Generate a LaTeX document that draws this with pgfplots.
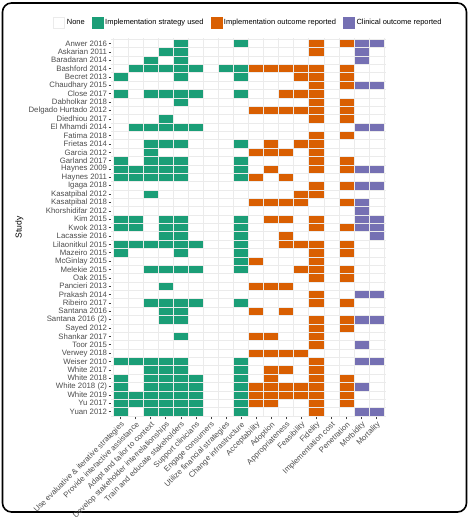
\documentclass[border=0pt]{standalone}
\usepackage{pgfplots}
\pgfplotsset{compat=1.18}
\usepackage{fontspec}
\setmainfont{Liberation Sans}
\definecolor{cgreen}{HTML}{1B9E77}
\definecolor{corange}{HTML}{D95F02}
\definecolor{cpurple}{HTML}{7570B3}
\definecolor{txtgrey}{HTML}{4D4D4D}
\definecolor{gridgrey}{HTML}{EBEBEB}
\begin{document}
\begin{tikzpicture}
\useasboundingbox (0pt,0pt) rectangle (469pt,517pt);
\draw[line width=1.6pt, rounded corners=9pt] (2.5pt,5pt) rectangle (466.5pt,514pt);
\begin{axis}[
  at={(111.5pt,100.3pt)}, anchor=south west,
  scale only axis, width=274pt, height=378.3pt,
  xmin=-0.6, xmax=17.6, ymin=-0.6, ymax=44.6, y dir=reverse,
  axis line style={draw=none},
  tick align=outside, tick pos=left,
  major tick length=2.75pt,
  tick style={color=black!75, line width=0.5pt},
  minor tick length=0pt,
  xtick={0,...,17},
  xticklabels={Use evaluative \& iterative strategies, Provide interactive assistance, Adapt and tailor to context, Develop stakeholder interrelationships, Train and educate stakeholders, Support clinicians, Engage consumers, Utilize financial strategies, Change infrastructure, Acceptability, Adoption, Appropriateness, Feasibility, Fidelity, Implementation cost, Penetration, Morbidity, Mortality},
  ytick={0,...,44},
  yticklabels={Anwer 2016, Askarian 2011, Baradaran 2014, Bashford 2014, Becret 2013, Chaudhary 2015, Close 2017, Dabholkar 2018, Delgado Hurtado 2012, Diedhiou 2017, El Mhamdi 2014, Fatima 2018, Frietas 2014, Garcia 2012, Garland 2017, Haynes 2009, Haynes 2011, Igaga 2018, Kasatpibal 2012, Kasatpibal 2018, Khorshidifar 2012, Kim 2015, Kwok 2013, Lacassie 2016, Lilaonitkul 2015, Mazeiro 2015, McGinlay 2015, Melekie 2015, Oak 2015, Pancieri 2013, Prakash 2014, Ribeiro 2017, Santana 2016, Santana 2016 (2), Sayed 2012, Shankar 2017, Toor 2015, Verwey 2018, Weiser 2010, White 2017, White 2018, White 2018 (2), White 2019, Yu 2017, Yuan 2012},
  ticklabel style={font=\fontsize{7.8}{9}\selectfont, text=txtgrey},
  xticklabel style={rotate=45, anchor=north east, inner sep=1pt},
  yticklabel style={inner sep=1.5pt},
  minor xtick={-0.5,0.5,...,17.5},
  minor ytick={-0.5,0.5,...,44.5},
  grid=minor,
  minor grid style={draw=gridgrey, line width=0.5pt},
  ylabel={Study},
  ylabel style={font=\fontsize{8.6}{10}\selectfont},
  legend columns=4,
  legend style={at={(0.5,1)}, anchor=center, yshift=16pt, draw=none, fill=none,
    font=\fontsize{7.5}{9}\selectfont,
    /tikz/every even column/.append style={column sep=5pt}},
  legend image code/.code={\draw[#1] (0pt,-5.5pt) rectangle (11pt,5.5pt);},
  tile/.style={only marks, mark=square*, mark size=0.5pt,
    mark options={xscale=15.055, yscale=8.37, draw=gridgrey, line width=0.5pt, fill=#1}},
]
\addlegendimage{fill=white, draw=gridgrey}
\addlegendentry{None}
\addlegendimage{fill=cgreen, draw=cgreen}
\addlegendentry{Implementation strategy used}
\addlegendimage{fill=corange, draw=corange}
\addlegendentry{Implementation outcome reported}
\addlegendimage{fill=cpurple, draw=cpurple}
\addlegendentry{Clinical outcome reported}

% Implementation strategies (green)
\addplot[tile=cgreen, forget plot] coordinates {
(4,0) (8,0)
(3,1) (4,1)
(2,2) (4,2)
(1,3) (2,3) (3,3) (4,3) (5,3) (7,3) (8,3)
(0,4) (4,4) (8,4)
(0,6) (2,6) (3,6) (4,6) (5,6) (8,6)
(4,7)
(3,9)
(1,10) (2,10) (3,10) (4,10) (5,10)
(2,12) (3,12) (4,12) (8,12)
(2,13)
(0,14) (2,14) (3,14) (4,14) (8,14)
(0,15) (1,15) (2,15) (3,15) (4,15) (8,15)
(0,16) (1,16) (2,16) (3,16) (4,16) (8,16)
(2,18)
(0,21) (1,21) (3,21) (4,21) (8,21)
(0,22) (1,22) (3,22) (4,22) (8,22)
(3,23) (4,23) (8,23)
(0,24) (1,24) (2,24) (3,24) (4,24) (5,24) (8,24)
(0,25) (4,25) (8,25)
(8,26)
(2,27) (3,27) (4,27) (5,27) (8,27)
(3,29)
(2,31) (3,31) (4,31) (5,31) (8,31)
(3,32) (4,32)
(3,33) (4,33)
(4,35)
(0,38) (1,38) (2,38) (3,38) (4,38) (8,38)
(2,39) (3,39) (4,39) (8,39)
(0,40) (2,40) (3,40) (4,40) (5,40) (8,40)
(0,41) (2,41) (3,41) (4,41) (5,41) (8,41)
(0,42) (1,42) (2,42) (3,42) (4,42) (5,42) (8,42)
(0,43) (1,43) (2,43) (3,43) (4,43) (5,43) (8,43)
(0,44) (2,44) (3,44) (4,44) (5,44) (8,44)
};

% Implementation outcomes (orange)
\addplot[tile=corange, forget plot] coordinates {
(13,0) (15,0)
(13,1)
(9,3) (10,3) (11,3) (12,3) (13,3) (15,3)
(12,4) (13,4) (15,4)
(13,5) (15,5)
(11,6) (12,6) (13,6)
(13,7) (15,7)
(9,8) (10,8) (11,8) (12,8) (13,8) (15,8)
(13,9) (15,9)
(13,11) (15,11)
(10,12) (12,12) (13,12)
(9,13) (10,13) (11,13) (13,13)
(13,14) (15,14)
(10,15) (13,15) (15,15)
(9,16) (11,16)
(13,17) (15,17)
(12,18) (13,18)
(9,19) (10,19) (11,19) (12,19) (15,19)
(10,21) (11,21) (13,21)
(13,22) (15,22)
(11,23)
(11,24) (12,24) (13,24) (15,24)
(13,25) (15,25)
(9,26) (13,26)
(12,27) (13,27) (15,27)
(13,28) (15,28)
(9,29) (10,29) (11,29)
(13,30)
(13,31) (15,31)
(9,32) (11,32)
(13,33) (15,33)
(13,34) (15,34)
(9,35) (10,35) (13,35)
(13,36)
(9,37) (10,37) (11,37) (12,37)
(13,38)
(10,39) (11,39) (13,39)
(10,40) (13,40) (15,40)
(9,41) (10,41) (11,41) (12,41) (13,41) (15,41)
(9,42) (10,42) (11,42) (12,42) (13,42) (15,42)
(9,43) (10,43) (13,43) (15,43)
(13,44)
};

% Clinical outcomes (purple)
\addplot[tile=cpurple, forget plot] coordinates {
(16,0) (17,0)
(16,1)
(16,2)
(16,5) (17,5)
(16,10) (17,10)
(16,15) (17,15)
(16,17) (17,17)
(16,19)
(16,20)
(16,21) (17,21)
(16,22) (17,22)
(17,23)
(16,30) (17,30)
(16,33) (17,33)
(16,36)
(16,38) (17,38)
(16,41)
(16,44) (17,44)
};
\end{axis}
\end{tikzpicture}
\end{document}
